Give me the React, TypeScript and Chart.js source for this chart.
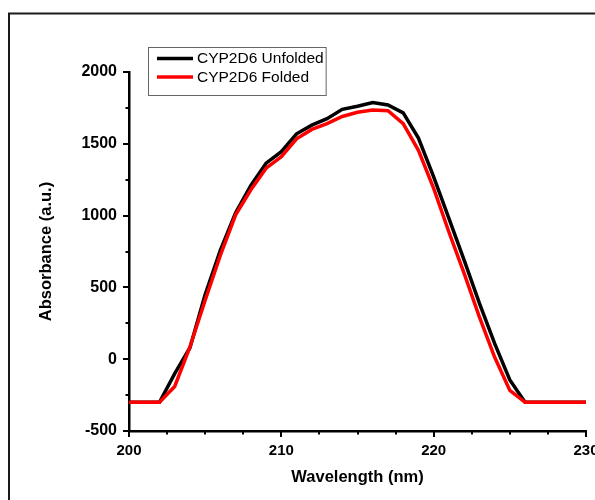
import React, { useEffect, useRef } from "react";
import { Chart, registerables } from "chart.js";

Chart.register(...registerables);

const wavelengths = [200, 201, 202, 203, 204, 205, 206, 207, 208, 209, 210, 211, 212, 213, 214, 215, 216, 217, 218, 219, 220, 221, 222, 223, 224, 225, 226, 227, 228, 229, 230];
const unfolded = [-300, -300, -300, -100, 80, 450, 760, 1020, 1210, 1365, 1445, 1570, 1630, 1675, 1740, 1762, 1788, 1770, 1715, 1540, 1270, 980, 690, 390, 110, -145, -300, -300, -300, -300, -300];
const folded = [-300, -300, -300, -190, 85, 410, 725, 1005, 1180, 1330, 1410, 1535, 1600, 1640, 1690, 1720, 1735, 1730, 1640, 1455, 1190, 886, 598, 295, 15, -218, -300, -300, -300, -300, -300];
const seriesLabels = ["CYP2D6 Unfolded", "CYP2D6 Folded"];
const seriesColors = ["#000000", "#ff0000"];
const xMajorTicks = [200, 210, 220, 230];
const xMinorStep = 2.5;
const yMinorStep = 250;

const FONT = "'Liberation Sans', Arial, Helvetica, sans-serif";

const decorPlugin = {
  id: "decor",
  afterDraw(chart: any) {
    const ctx = chart.ctx;
    const xs = chart.scales.x;
    const ys = chart.scales.y;
    const area = chart.chartArea;
    ctx.save();
    // outer frame
    ctx.strokeStyle = "#1a1a1a";
    ctx.lineWidth = 2;
    ctx.beginPath();
    ctx.moveTo(9, 510);
    ctx.lineTo(9, 13.5);
    ctx.lineTo(600, 13.5);
    ctx.stroke();

    // ticks
    ctx.strokeStyle = "#000";
    ctx.lineWidth = 2;
    for (let v = xs.min; v <= xs.max + 1e-9; v += xMinorStep) {
      const major = Math.abs(v % 10) < 1e-6;
      const px = Math.round(xs.getPixelForValue(v));
      ctx.beginPath();
      ctx.moveTo(px, area.bottom);
      ctx.lineTo(px, area.bottom + (major ? 6 : 3.5));
      ctx.stroke();
    }
    for (let v = ys.min; v <= ys.max + 1e-9; v += yMinorStep) {
      const major = Math.abs(v % 500) < 1e-6;
      const py = Math.round(ys.getPixelForValue(v));
      ctx.beginPath();
      ctx.moveTo(area.left, py);
      ctx.lineTo(area.left - (major ? 6 : 3.5), py);
      ctx.stroke();
    }

    // legend
    const ds = chart.data.datasets;
    ctx.font = `15.5px ${FONT}`;
    let maxW = 0;
    ds.forEach((d: any) => {
      maxW = Math.max(maxW, ctx.measureText(d.label).width);
    });
    const boxX = 148;
    const boxY = 47;
    const lineX0 = 157;
    const lineX1 = 193;
    const textX = 197;
    const boxW = textX + maxW + 2 - boxX;
    const boxH = 48;
    ctx.strokeStyle = "#666";
    ctx.lineWidth = 1;
    ctx.strokeRect(boxX + 0.5, boxY + 0.5, boxW, boxH);
    const rowYs = [58.5, 77];
    ds.forEach((d: any, i: number) => {
      ctx.strokeStyle = d.borderColor;
      ctx.lineWidth = 3.5;
      ctx.beginPath();
      ctx.moveTo(lineX0, rowYs[i]);
      ctx.lineTo(lineX1, rowYs[i]);
      ctx.stroke();
      ctx.fillStyle = "#000";
      ctx.textBaseline = "middle";
      ctx.textAlign = "left";
      ctx.fillText(d.label, textX, rowYs[i] + 0.5);
    });
    ctx.restore();
  },
};

export default function App() {
  const ref = useRef<HTMLCanvasElement>(null);
  useEffect(() => {
    if (!ref.current) return;
    const chart = new Chart(ref.current, {
      type: "line",
      data: {
        labels: wavelengths,
        datasets: [
          {
            label: seriesLabels[0],
            data: wavelengths.map((w, i) => ({ x: w, y: unfolded[i] })),
            borderColor: seriesColors[0],
            backgroundColor: seriesColors[0],
            borderWidth: 3.5,
            pointRadius: 0,
            tension: 0,
            order: 1,
          },
          {
            label: seriesLabels[1],
            data: wavelengths.map((w, i) => ({ x: w, y: folded[i] })),
            borderColor: seriesColors[1],
            backgroundColor: seriesColors[1],
            borderWidth: 3.5,
            pointRadius: 0,
            tension: 0,
            order: 0,
          },
        ],
      },
      options: {
        animation: false,
        responsive: false,
        maintainAspectRatio: false,
        layout: { padding: { left: 0, top: 72, right: 9, bottom: 0 } },
        plugins: { legend: { display: false }, tooltip: { enabled: false } },
        scales: {
          x: {
            type: "linear",
            min: 200,
            max: 230,
            afterBuildTicks: (scale: any) => {
              scale.ticks = xMajorTicks.map((v) => ({ value: v }));
            },
            afterFit: (scale: any) => {
              scale.height = 69;
              scale.paddingLeft = 0;
              scale.paddingRight = 0;
            },
            grid: { display: false, drawTicks: false },
            border: { display: true, color: "#000", width: 2.5 },
            ticks: {
              color: "#000",
              padding: 11,
              maxRotation: 0,
              callback: (v: any) => String(v),
              font: { family: FONT, size: 15, weight: "bold" },
            },
            title: {
              display: true,
              text: "Wavelength (nm)",
              color: "#000",
              font: { family: FONT, size: 16.5, weight: "bold" },
              padding: { top: 0, bottom: 13 },
            },
          },
          y: {
            type: "linear",
            min: -500,
            max: 2000,
            afterFit: (scale: any) => {
              scale.width = 129;
              scale.paddingTop = 0;
              scale.paddingBottom = 0;
            },
            grid: { display: false, drawTicks: false },
            border: { display: true, color: "#000", width: 2.5 },
            ticks: {
              stepSize: 500,
              color: "#000",
              padding: 12,
              callback: (v: any) => String(v),
              font: { family: FONT, size: 16, weight: "bold" },
            },
            title: {
              display: true,
              text: "Absorbance (a.u.)",
              color: "#000",
              font: { family: FONT, size: 16.5, weight: "bold" },
              padding: { top: 37, bottom: 0 },
            },
          },
        },
      },
      plugins: [decorPlugin],
    });
    return () => chart.destroy();
  }, []);
  return (
    <div style={{ position: "fixed", left: 0, top: 0, width: 595, height: 500, background: "#fff" }}>
      <canvas ref={ref} width={595} height={500} style={{ display: "block" }} />
    </div>
  );
}
